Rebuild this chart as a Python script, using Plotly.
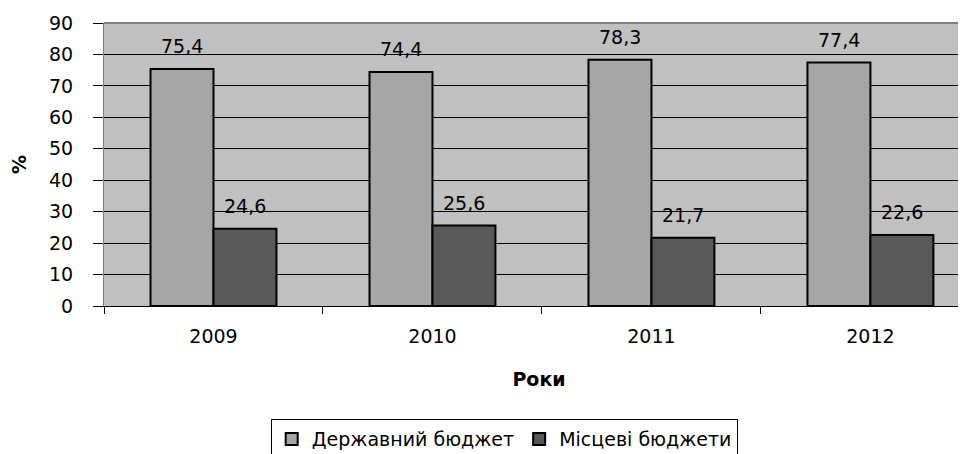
import plotly.graph_objects as go

years = ["2009", "2010", "2011", "2012"]
state_budget = [75.4, 74.4, 78.3, 77.4]
local_budgets = [24.6, 25.6, 21.7, 22.6]
series_names = ["Державний бюджет", "Місцеві бюджети"]
y_ticks = [0, 10, 20, 30, 40, 50, 60, 70, 80, 90]

FONT = "DejaVu Sans, Verdana, sans-serif"
FS = 19

def fmt(v):
    return f"{v:.1f}".replace(".", ",")

fig = go.Figure()
fig.add_trace(go.Bar(x=years, y=state_budget, name=series_names[0],
                     marker=dict(color="#a6a6a6", line=dict(color="black", width=2))))
fig.add_trace(go.Bar(x=years, y=local_budgets, name=series_names[1],
                     marker=dict(color="#595959", line=dict(color="black", width=2))))

annotations = []
for i, v in enumerate(state_budget):
    annotations.append(dict(x=i, y=v, xref="x", yref="y", text=fmt(v), showarrow=False,
                            xshift=-31.5, yanchor="bottom", yshift=10,
                            font=dict(family=FONT, size=FS, color="black")))
for i, v in enumerate(local_budgets):
    annotations.append(dict(x=i, y=v, xref="x", yref="y", text=fmt(v), showarrow=False,
                            xshift=31.5, yanchor="bottom", yshift=10,
                            font=dict(family=FONT, size=FS, color="black")))

fig.update_layout(
    width=966, height=454,
    margin=dict(l=96, r=0, t=15, b=156),
    paper_bgcolor="white",
    plot_bgcolor="#c0c0c0",
    barmode="group",
    bargap=0.425,
    bargroupgap=0,
    font=dict(family=FONT, size=FS, color="black"),
    annotations=annotations,
    showlegend=True,
    legend=dict(orientation="h", x=0.46, xanchor="center", y=-0.4, yanchor="top",
                bordercolor="black", borderwidth=1, bgcolor="white",
                font=dict(family=FONT, size=FS, color="black"),
                itemwidth=30, traceorder="normal"),
    shapes=[dict(type="line", xref="paper", yref="paper", x0=0, x1=1, y0=1, y1=1,
                 line=dict(color="#808080", width=2))],
)

fig.update_xaxes(
    type="category", range=[-0.5, 3.473],
    ticks="outside", tickson="boundaries", ticklen=7, tickcolor="black",
    showline=True, linecolor="black", linewidth=1,
    showgrid=False,
    tickfont=dict(family=FONT, size=FS),
    ticklabelstandoff=13,
    title=dict(text="<b>Роки</b>", font=dict(family=FONT, size=FS), standoff=26),
)
fig.update_yaxes(
    range=[0, 90], tickvals=y_ticks,
    ticks="outside", ticklen=10, tickcolor="black",
    showline=True, linecolor="#808080", linewidth=1,
    showgrid=True, gridcolor="black", gridwidth=1,
    zeroline=False,
    tickfont=dict(family=FONT, size=FS),
    ticklabelstandoff=16,
    title=dict(text="<b>%</b>", font=dict(family=FONT, size=FS), standoff=26),
)

fig.write_html("out.html")
